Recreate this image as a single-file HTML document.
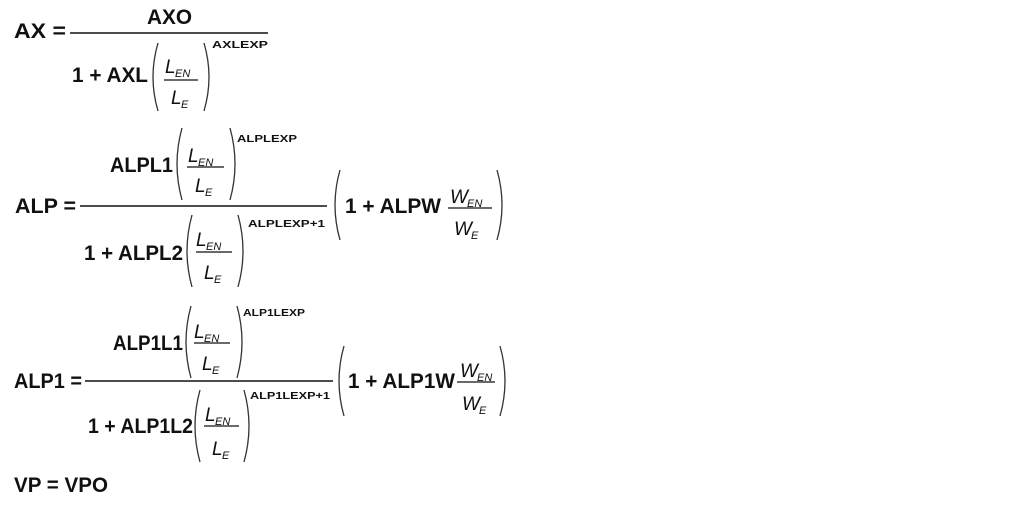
<!DOCTYPE html>
<html><head><meta charset="utf-8"><style>
html,body{margin:0;padding:0;background:#fff;width:1013px;height:521px;overflow:hidden}
svg{display:block}
text{font-family:"Liberation Sans",sans-serif;fill:#111}
.b{font-weight:bold;font-size:21px}
.r{font-size:21px}
.s{font-weight:bold;font-size:10px}
.i{font-style:italic;font-size:19px}
.si{font-style:italic;font-size:11px}
.p{fill:none;stroke:#333;stroke-width:1.3}
.l{stroke:#111;stroke-width:1.6}
</style></head><body>
<svg width="1013" height="521" viewBox="0 0 1013 521">
<!-- Eq1 -->
<text class="b" x="14" y="38" textLength="52" lengthAdjust="spacingAndGlyphs">AX =</text>
<line class="l" x1="70" y1="33" x2="268" y2="33"/>
<text class="b" x="147" y="24" textLength="45" lengthAdjust="spacingAndGlyphs">AXO</text>
<text class="b" x="72" y="82" textLength="76" lengthAdjust="spacingAndGlyphs">1 + AXL</text>
<path class="p" d="M158 43 Q148 77 158 111"/><path class="p" d="M204 43 Q214 77 204 111"/>
<text class="i" x="165" y="73">L</text><text class="si" x="175" y="77">EN</text>
<line class="l" x1="164" y1="80" x2="198" y2="80" style="stroke-width:1.2"/>
<text class="i" x="171" y="104">L</text><text class="si" x="181" y="108">E</text>
<text class="s" x="212" y="48" textLength="56" lengthAdjust="spacingAndGlyphs">AXLEXP</text>

<!-- Eq2 -->
<text class="b" x="15" y="213" textLength="61" lengthAdjust="spacingAndGlyphs">ALP =</text>
<line class="l" x1="80" y1="206" x2="327" y2="206"/>
<text class="b" x="110" y="172" textLength="63" lengthAdjust="spacingAndGlyphs">ALPL1</text>
<path class="p" d="M182 128 Q172 164 182 200"/><path class="p" d="M230 128 Q240 164 230 200"/>
<text class="i" x="188" y="162">L</text><text class="si" x="198" y="166">EN</text>
<line class="l" x1="187" y1="167" x2="224" y2="167" style="stroke-width:1.2"/>
<text class="i" x="195" y="192">L</text><text class="si" x="205" y="196">E</text>
<text class="s" x="237" y="142" textLength="60" lengthAdjust="spacingAndGlyphs">ALPLEXP</text>
<text class="b" x="84" y="260" textLength="99" lengthAdjust="spacingAndGlyphs">1 + ALPL2</text>
<path class="p" d="M192 215 Q182 251 192 287"/><path class="p" d="M238 215 Q248 251 238 287"/>
<text class="i" x="196" y="246">L</text><text class="si" x="206" y="250">EN</text>
<line class="l" x1="196" y1="252" x2="232" y2="252" style="stroke-width:1.2"/>
<text class="i" x="204" y="279">L</text><text class="si" x="214" y="283">E</text>
<text class="s" x="248" y="227" textLength="77" lengthAdjust="spacingAndGlyphs">ALPLEXP+1</text>
<path class="p" d="M340 170 Q330 205 340 240"/><path class="p" d="M497 170 Q507 205 497 240"/>
<text class="b" x="345" y="213" textLength="96" lengthAdjust="spacingAndGlyphs">1 + ALPW</text>
<text class="i" x="450" y="203">W</text><text class="si" x="467" y="207">EN</text>
<line class="l" x1="448" y1="208" x2="492" y2="208" style="stroke-width:1.2"/>
<text class="i" x="454" y="235">W</text><text class="si" x="471" y="239">E</text>

<!-- Eq3 -->
<text class="b" x="14" y="388" textLength="68" lengthAdjust="spacingAndGlyphs">ALP1 =</text>
<line class="l" x1="85" y1="381" x2="333" y2="381"/>
<text class="b" x="113" y="350" textLength="70" lengthAdjust="spacingAndGlyphs">ALP1L1</text>
<path class="p" d="M191 306 Q181 342 191 378"/><path class="p" d="M237 306 Q247 342 237 378"/>
<text class="i" x="194" y="338">L</text><text class="si" x="204" y="342">EN</text>
<line class="l" x1="194" y1="343" x2="230" y2="343" style="stroke-width:1.2"/>
<text class="i" x="202" y="370">L</text><text class="si" x="212" y="374">E</text>
<text class="s" x="243" y="316" textLength="62" lengthAdjust="spacingAndGlyphs">ALP1LEXP</text>
<text class="b" x="88" y="433" textLength="105" lengthAdjust="spacingAndGlyphs">1 + ALP1L2</text>
<path class="p" d="M200 390 Q190 426 200 462"/><path class="p" d="M244 390 Q254 426 244 462"/>
<text class="i" x="205" y="421">L</text><text class="si" x="215" y="425">EN</text>
<line class="l" x1="204" y1="426" x2="239" y2="426" style="stroke-width:1.2"/>
<text class="i" x="212" y="455">L</text><text class="si" x="222" y="459">E</text>
<text class="s" x="250" y="399" textLength="80" lengthAdjust="spacingAndGlyphs">ALP1LEXP+1</text>
<path class="p" d="M344 346 Q334 381 344 416"/><path class="p" d="M500 346 Q510 381 500 416"/>
<text class="b" x="348" y="388" textLength="107" lengthAdjust="spacingAndGlyphs">1 + ALP1W</text>
<text class="i" x="460" y="377">W</text><text class="si" x="477" y="381">EN</text>
<line class="l" x1="457" y1="382" x2="495" y2="382" style="stroke-width:1.2"/>
<text class="i" x="462" y="410">W</text><text class="si" x="479" y="414">E</text>

<!-- Eq4 -->
<text class="b" x="14" y="492" textLength="94" lengthAdjust="spacingAndGlyphs">VP = VPO</text>
</svg>
</body></html>
